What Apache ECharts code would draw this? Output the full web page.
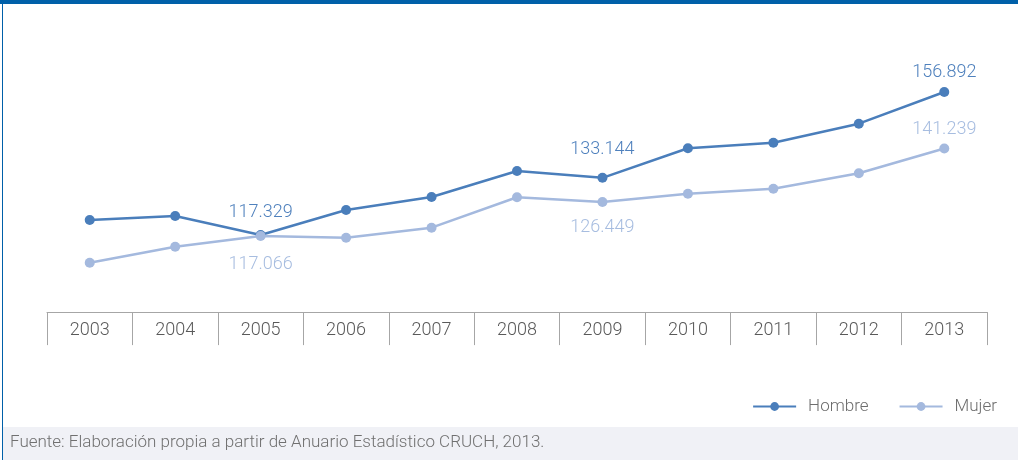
<!DOCTYPE html>
<html>
<head>
<meta charset="utf-8">
<script src="https://cdn.jsdelivr.net/npm/echarts@6/dist/echarts.min.js"></script>
<style>
  html, body { margin: 0; padding: 0; background: #ffffff; }
  #chart { width: 1018px; height: 460px; }
</style>
</head>
<body>
<div id="chart"></div>
<script>
// Matrícula por sexo, 2003–2013
const years = ['2003', '2004', '2005', '2006', '2007', '2008', '2009', '2010', '2011', '2012', '2013'];
const hombre = [121480, 122590, 117329, 124250, 127840, 135040, 133144, 141320, 142860, 148120, 156892];
const mujer  = [109670, 114090, 117066, 116580, 119350, 127760, 126449, 128760, 130140, 134400, 141239];

// Years whose value is printed: side of the point and gap to it
const hombreLabels = { '2005': ['top', 8], '2009': ['top', 14], '2013': ['top', 5] };
const mujerLabels  = { '2005': ['bottom', 15], '2009': ['bottom', 11], '2013': ['top', 5] };

const sourceNote = 'Fuente: Elaboración propia a partir de Anuario Estadístico CRUCH, 2013.';

const HOMBRE_COLOR = '#4a7ebb';
const MUJER_COLOR = '#a4b9de';
const FONT = 'Roboto, "Noto Sans", sans-serif';

function fmt(v) {
  return String(Math.round(v)).replace(/\B(?=(\d{3})+(?!\d))/g, '.');
}

function buildData(values, labels, color) {
  return values.map((v, i) => {
    const spec = labels[years[i]];
    const item = { value: v };
    if (spec) {
      item.label = {
        show: true,
        position: spec[0],
        distance: spec[1],
        formatter: p => fmt(p.value),
        color: color,
        fontFamily: FONT,
        fontWeight: 300,
        fontSize: 18
      };
    }
    return item;
  });
}

const chart = echarts.init(document.getElementById('chart'), null, { renderer: 'canvas' });

chart.setOption({
  animation: false,
  backgroundColor: '#ffffff',
  grid: { left: 47, right: 31, top: 44.6, height: 267.5 },
  xAxis: {
    type: 'category',
    data: years,
    boundaryGap: true,
    axisLine: { show: true, lineStyle: { color: '#a6a6a6', width: 1 } },
    axisTick: { show: true, length: 33, lineStyle: { color: '#a6a6a6', width: 1 } },
    axisLabel: {
      color: '#595959',
      fontFamily: FONT,
      fontWeight: 300,
      fontSize: 18,
      margin: 9
    },
    splitLine: { show: false }
  },
  yAxis: {
    type: 'value',
    min: 96000,
    max: 170000,
    show: false,
    splitLine: { show: false }
  },
  legend: {
    right: 16,
    top: 393,
    itemWidth: 43,
    itemHeight: 11,
    itemGap: 30,
    textStyle: { color: '#6d6d6d', fontFamily: FONT, fontWeight: 300, fontSize: 17, padding: [0, 0, 0, 7] },
    data: ['Hombre', 'Mujer']
  },
  series: [
    {
      name: 'Hombre',
      type: 'line',
      data: buildData(hombre, hombreLabels, '#4f81bd'),
      symbol: 'circle',
      symbolSize: 10,
      lineStyle: { color: HOMBRE_COLOR, width: 2.5 },
      itemStyle: { color: HOMBRE_COLOR },
      z: 3
    },
    {
      name: 'Mujer',
      type: 'line',
      data: buildData(mujer, mujerLabels, '#a7bde0'),
      symbol: 'circle',
      symbolSize: 10,
      lineStyle: { color: MUJER_COLOR, width: 2.5 },
      itemStyle: { color: MUJER_COLOR },
      z: 4
    }
  ],
  graphic: [
    { type: 'rect', left: 0, top: 0, shape: { width: 1018, height: 4 }, style: { fill: '#0060a9' }, silent: true },
    { type: 'rect', left: 2, top: 4, shape: { width: 1, height: 456 }, style: { fill: '#0060a9' }, silent: true },
    { type: 'rect', left: 3, top: 427, shape: { width: 1015, height: 33 }, style: { fill: '#f0f1f6' }, silent: true },
    {
      type: 'text', left: 10, top: 434, silent: true,
      style: { text: sourceNote, fill: '#707070', font: '300 17px Roboto, "Noto Sans", sans-serif' }
    }
  ]
});
</script>
</body>
</html>
